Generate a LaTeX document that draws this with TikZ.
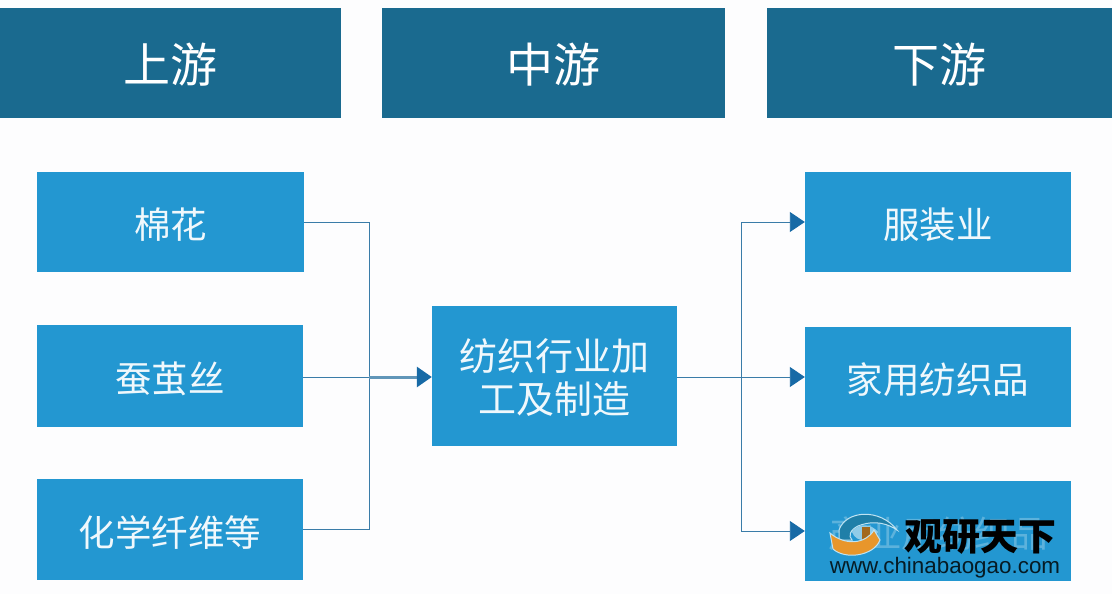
\documentclass[tikz,border=0pt]{standalone}
\usepackage{fontspec}
\setmainfont{Noto Sans CJK SC}
\setsansfont{Liberation Sans}
\usetikzlibrary{arrows.meta}
\definecolor{headblue}{HTML}{1A6A8F}
\definecolor{boxblue}{HTML}{2397D1}
\definecolor{linkblue}{HTML}{3A7CA8}
\definecolor{tipblue}{HTML}{176AA6}
\definecolor{pagewhite}{HTML}{FDFDFE}
\definecolor{logoorange}{HTML}{E8962B}
\definecolor{logoteal}{HTML}{1F7FA8}
\definecolor{logopale}{HTML}{BFE3F2}
\tikzset{
    headbox/.style={fill=headblue,text=white,font=\fontsize{47}{47}\selectfont,inner sep=0pt,text height=43pt,text depth=3pt},
    itembox/.style={fill=boxblue,text=white!93!boxblue,font=\fontsize{36.5}{36.5}\selectfont,inner sep=0pt,text height=36pt,text depth=2.6pt},
    link/.style={draw=linkblue,line width=0.9pt},
    feed/.style={draw=linkblue,line width=0.9pt,-{Triangle[length=15pt,width=20pt,color=tipblue]}},
    mainfeed/.style={draw=linkblue!80,line width=3pt,-{Triangle[length=15pt,width=20pt,color=tipblue]}}
}
\begin{document}
\begin{tikzpicture}[x=1pt,y=-1pt]
    \fill [pagewhite] (0,0) rectangle (1112,594);
    \useasboundingbox (0,0) rectangle (1112,594);
    % top row
    \node [headbox,minimum width=341pt,minimum height=110pt] (up) at (170.5,63) {上游};
    \node [headbox,minimum width=343pt,minimum height=110pt] (midhead) at (553.5,63) {中游};
    \node [headbox,minimum width=345pt,minimum height=110pt] (down) at (939.5,63) {下游};
    % left column
    \node [itembox,minimum width=267pt,minimum height=100pt] (cotton) at (170.5,222) {棉花};
    \node [itembox,minimum width=266pt,minimum height=102pt] (silk) at (170,376) {蚕茧丝};
    \node [itembox,minimum width=266pt,minimum height=101pt] (fibre) at (170,529.5) {化学纤维等};
    % middle
    \node [fill=boxblue,text=white!93!boxblue,inner sep=0pt,align=center,text height=78pt,minimum width=245pt,minimum height=140pt,font=\fontsize{38}{43}\selectfont] (mill) at (554.5,376) {纺织行业加\\工及制造};
    % right column
    \node [itembox,minimum width=266pt,minimum height=100pt] (cloth) at (938,222) {服装业};
    \node [itembox,minimum width=266pt,minimum height=100pt] (home) at (938,377) {家用纺织品};
    \node [itembox,minimum width=266pt,minimum height=100pt] (indust) at (938,531) {产业用纺织品};
    \coordinate (lmerge) at (369,377);
    \coordinate (rsplit) at (741,377);
    \draw [link] (cotton.east) -| (lmerge);
    \draw [link] (fibre.east) -| (lmerge);
    \draw [link] (silk.east |- lmerge) -- (lmerge);
    \draw [mainfeed] (lmerge) -- (mill.west |- lmerge);
    \draw [link] (mill.east |- rsplit) -- (rsplit);
    \draw [feed] (rsplit) |- (cloth.west);
    \draw [feed] (rsplit) -- (home.west);
    \draw [feed] (rsplit) |- (indust.west);
    % watermark
    \fill [boxblue,fill opacity=0.72] (815,510) rectangle (1062,580);
    \fill [logoteal,draw=logopale,line width=1pt] (839,530) .. controls (846,510) and (880,508) .. (897,530) .. controls (882,520) and (868,522) .. (858,526) .. controls (850,530) and (848,536) .. (852,540) -- (839,540) -- cycle;
    \fill [logopale!70!boxblue] (852,532) .. controls (858,522) and (872,524) .. (878,532) .. controls (874,542) and (856,544) .. (852,532) -- cycle;
    \fill [logoorange!70!black] (862,527) rectangle (870,540);
    \fill [logoorange,draw=logopale,line width=1pt] (830,533) .. controls (845,546) and (866,544) .. (874,530) -- (880,540) .. controls (874,556) and (845,560) .. (833,549) -- cycle;
    \node [font=\fontsize{38}{38}\selectfont\bfseries,text=black,inner sep=0pt] (brand) at (980.5,537) {观研天下};
    \node [font=\sffamily\fontsize{22.4}{22.4}\selectfont,text=black!75!headblue,inner sep=0pt] (site) at (945,568) {www.chinabaogao.com};
\end{tikzpicture}
\end{document}
